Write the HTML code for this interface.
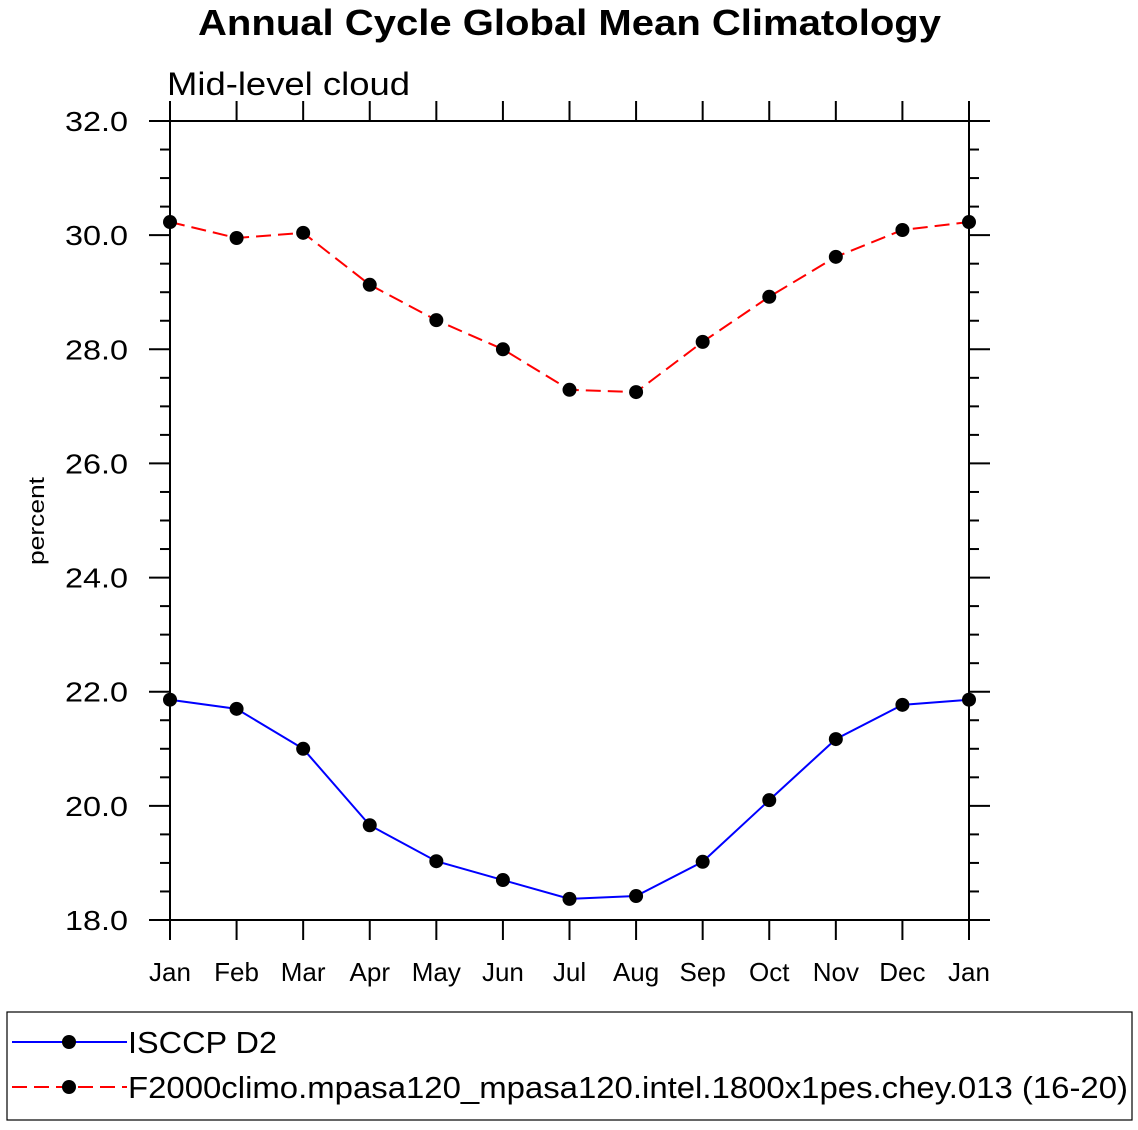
<!DOCTYPE html>
<html><head><meta charset="utf-8"><style>
body{margin:0;background:#fff;}
svg text{font-family:"Liberation Sans",Arial,sans-serif;}
</style></head><body>
<svg id="chart" width="1138" height="1125" xmlns="http://www.w3.org/2000/svg">
<text x="198" y="35" textLength="743" lengthAdjust="spacingAndGlyphs" font-size="36" font-weight="bold">Annual Cycle Global Mean Climatology</text>
<text x="167" y="95" textLength="243" lengthAdjust="spacingAndGlyphs" font-size="32">Mid-level cloud</text>
<text transform="translate(44,521) rotate(-90)" text-anchor="middle" textLength="88" lengthAdjust="spacingAndGlyphs" font-size="22">percent</text>
<g id="axes"></g>
<g id="series"></g>
<rect x="7" y="1012" width="1125" height="108" fill="none" stroke="#000" stroke-width="1.2"/>
<g>
<line x1="12" y1="1042" x2="127" y2="1042" stroke="#00f" stroke-width="2"/>
<circle cx="69" cy="1042" r="7" fill="#000"/>
<text x="128" y="1053" textLength="149" lengthAdjust="spacingAndGlyphs" font-size="31">ISCCP D2</text></g>
<g>
<line x1="12" y1="1087" x2="127" y2="1087" stroke="#f00" stroke-width="2" stroke-dasharray="15,7"/>
<circle cx="69" cy="1087" r="7" fill="#000"/>
<text x="128" y="1098" textLength="1000" lengthAdjust="spacingAndGlyphs" font-size="31">F2000climo.mpasa120_mpasa120.intel.1800x1pes.chey.013 (16-20)</text></g>
</svg>
<script>
const months=["Jan","Feb","Mar","Apr","May","Jun","Jul","Aug","Sep","Oct","Nov","Dec","Jan"];
const obsValues=[21.86,21.70,21.00,19.66,19.03,18.70,18.37,18.42,19.02,20.10,21.17,21.77,21.86];
const modelValues=[30.23,29.95,30.04,29.13,28.51,28.00,27.29,27.25,28.13,28.92,29.62,30.09,30.23];
const yTicks=[18,20,22,24,26,28,30,32];
const X0=170,X1=969,Y0=920,Y1=121,YMIN=18,YMAX=32;
const xs=i=>X0+(X1-X0)*i/(months.length-1);
const ys=v=>Y0-(v-YMIN)/(YMAX-YMIN)*(Y0-Y1);
const NS="http://www.w3.org/2000/svg";
function mk(t,a,p){const e=document.createElementNS(NS,t);for(const k in a)e.setAttribute(k,a[k]);p.appendChild(e);return e;}
const ax=document.getElementById('axes');
const fr=mk('rect',{x:X0,y:Y1,width:X1-X0,height:Y0-Y1,fill:'none',stroke:'#000','stroke-width':2},ax);


for(let v=YMIN;v<=YMAX+1e-9;v+=0.5){
  const y=ys(v),major=Math.abs(v-Math.round(v/2)*2)<1e-9;
  const L=major?21:10;
  mk('line',{x1:X0-L,y1:y,x2:X0,y2:y,stroke:'#000','stroke-width':2},ax);
  mk('line',{x1:X1,y1:y,x2:X1+L,y2:y,stroke:'#000','stroke-width':2},ax);
}
yTicks.forEach(v=>{const t=mk('text',{x:128,y:ys(v)+10,'text-anchor':'end','font-size':28,textLength:63,lengthAdjust:'spacingAndGlyphs'},ax);t.textContent=v.toFixed(1);

});
months.forEach((m,i)=>{const x=xs(i);
  mk('line',{x1:x,y1:Y0,x2:x,y2:Y0+20,stroke:'#000','stroke-width':2},ax);
  mk('line',{x1:x,y1:Y1,x2:x,y2:Y1-20,stroke:'#000','stroke-width':2},ax);
  const t=mk('text',{x:x,y:981,'text-anchor':'middle','font-size':26},ax);t.textContent=m;
  
  });
const sg=document.getElementById('series');
function draw(vals,color,dash,name){
  const pts=vals.map((v,i)=>xs(i)+','+ys(v)).join(' ');
  const pl=mk('polyline',{points:pts,fill:'none',stroke:color,'stroke-width':2,'stroke-dasharray':dash},sg);
  
  
  vals.forEach((v,i)=>{const c=mk('circle',{cx:xs(i),cy:ys(v),r:7,fill:'#000'},sg);
    
    });
}
draw(obsValues,'#00f','none','isccp');
draw(modelValues,'#f00','15,7','model');
</script>
</body></html>
